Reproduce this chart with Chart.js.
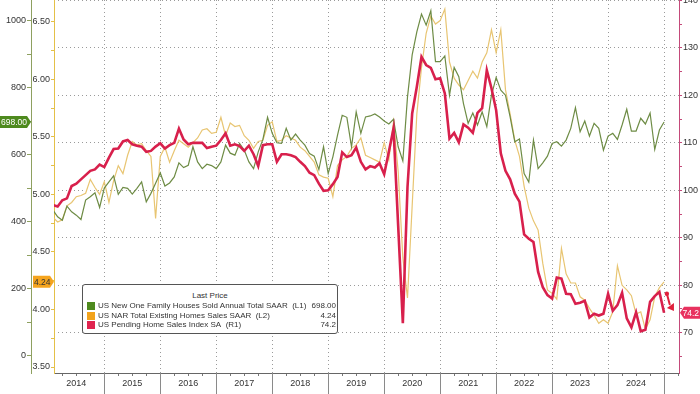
<!DOCTYPE html>
<html>
<head>
<meta charset="utf-8">
<script src="https://cdn.jsdelivr.net/npm/chart.js@4.4.1/dist/chart.umd.min.js"></script>
<style>
  body { margin: 0; background: #fff; }
  #wrap { position: relative; width: 700px; height: 394px; }
  #legend {
    position: absolute; left: 82px; top: 284px; width: 254px; height: 48px;
    border: 1px solid #555; border-radius: 3px; background: #fff;
    font: 8px "Liberation Sans", Arial, sans-serif; color: #333;
  }
  #legend .head { text-align: center; margin-top: 6px; height: 10px; line-height: 10px; }
  #legend .row { position: relative; height: 9.5px; line-height: 9.5px; padding-left: 15px; }
  #legend .sq { position: absolute; left: 4px; top: 1px; width: 8px; height: 8px; }
  #legend .val { position: absolute; right: 1px; top: 0; }
</style>
</head>
<body>
<div id="wrap">
  <canvas id="chart" width="700" height="394"></canvas>
  <div id="legend">
    <div class="head">Last Price</div>
    <div class="row"><span class="sq" style="background:#4e8a1e"></span>US New One Family Houses Sold Annual Total SAAR&nbsp; (L1)<span class="val">698.00</span></div>
    <div class="row"><span class="sq" style="background:#f2a31c"></span>US NAR Total Existing Homes Sales SAAR&nbsp; (L2)<span class="val">4.24</span></div>
    <div class="row"><span class="sq" style="background:#e0244f"></span>US Pending Home Sales Index SA&nbsp; (R1)<span class="val">74.2</span></div>
  </div>
</div>
<script>
// monthly, Jan 2014 .. Dec 2024
const years = ["2014", "2015", "2016", "2017", "2018", "2019", "2020", "2021", "2022", "2023", "2024"];

// US New One Family Houses Sold, SAAR, thousands (L1)
const newHomeSales = [
  435, 415, 405, 447, 430, 420, 407, 465, 475, 487, 443, 501,
  519, 537, 482, 503, 500, 483, 500, 519, 460, 485, 515, 546,
  507, 516, 534, 576, 562, 569, 624, 579, 559, 572, 568, 559,
  579, 629, 605, 599, 634, 614, 579, 559, 609, 646, 712, 664,
  636, 634, 679, 644, 662, 644, 629, 604, 596, 556, 624, 544,
  594, 659, 718, 712, 624, 728, 664, 713, 716, 722, 713, 701,
  692, 706, 624, 582, 773, 898, 967, 1020, 987, 1030, 878, 878,
  895, 778, 861, 833, 753, 694, 725, 689, 728, 684, 778, 831,
  793, 778, 713, 639, 647, 544, 519, 644, 559, 576, 596, 634,
  639, 626, 644, 679, 741, 669, 701, 656, 694, 679, 614, 656,
  664, 646, 689, 736, 671, 671, 709, 692, 725, 616, 674, 698
];

// US NAR Total Existing Home Sales, SAAR, millions (L2)
const existingSales = [
  4.80, 4.76, 4.78, 4.90, 4.93, 4.98, 4.99, 5.01, 5.13, 5.06, 5.00, 5.11,
  4.93, 5.12, 5.25, 5.18, 5.34, 5.46, 5.43, 5.44, 5.38, 5.33, 4.79, 5.33,
  5.41, 5.28, 5.38, 5.47, 5.44, 5.41, 5.45, 5.49, 5.56, 5.57, 5.53, 5.54,
  5.67, 5.51, 5.62, 5.59, 5.60, 5.51, 5.47, 5.40, 5.46, 5.47, 5.60, 5.63,
  5.46, 5.47, 5.51, 5.49, 5.47, 5.41, 5.38, 5.33, 5.28, 5.17, 5.15, 5.14,
  4.98, 5.25, 5.30, 5.33, 5.40, 5.43, 5.49, 5.34, 5.32, 5.30, 5.28, 5.45,
  5.30, 5.63, 5.20, 4.45, 4.10, 4.90, 5.70, 6.10, 6.40, 6.55, 6.48, 6.51,
  6.61, 6.15, 6.01, 5.95, 5.91, 5.99, 6.07, 6.01, 6.15, 6.23, 6.43, 6.23,
  6.43, 5.91, 5.70, 5.47, 5.33, 5.07, 4.88, 4.77, 4.69, 4.40, 4.17, 4.14,
  4.09, 4.53, 4.31, 4.23, 4.23, 4.11, 4.08, 4.01, 3.95, 3.88, 3.91, 3.88,
  3.98, 4.38, 4.21, 4.17, 4.12, 3.96, 3.98, 3.83, 3.91, 4.11, 4.19, 4.24
];

// US Pending Home Sales Index, SA (R1)
const pendingIndex = [
  96.9, 96.6, 97.9, 98.3, 100.9, 101.4, 102.3, 103.2, 104.1, 104.4, 105.4, 104.9,
  106.9, 108.7, 108.8, 110.3, 110.6, 109.7, 109.4, 109.2, 108.1, 108.3, 109.2, 109.9,
  108.8, 109.5, 110.0, 113.0, 110.7, 109.7, 110.0, 110.0, 110.0, 108.9, 109.2, 109.4,
  110.6, 112.0, 109.4, 109.7, 109.3, 108.3, 109.4, 107.6, 105.1, 109.5, 109.7, 109.7,
  106.0, 107.6, 107.6, 107.4, 107.0, 106.0, 105.1, 103.7, 103.2, 101.4, 99.9, 100.0,
  101.3, 102.8, 108.0, 107.0, 107.4, 109.0, 106.0, 104.4, 105.1, 104.8, 105.7, 103.4,
  108.1, 113.0, 92.5, 72.0, 100.7, 116.2, 121.8, 128.1, 126.4, 125.8, 123.4, 123.6,
  120.4, 110.9, 112.1, 110.1, 113.9, 113.2, 112.1, 116.3, 117.3, 125.3, 121.5, 116.9,
  107.8, 104.1, 102.3, 99.3, 97.6, 90.7, 89.8, 89.1, 82.8, 79.6, 77.9, 77.2,
  81.6, 81.4, 78.2, 78.1, 76.1, 76.3, 76.7, 73.2, 74.0, 73.6, 74.0, 78.2,
  74.6, 75.8, 78.4, 73.0, 71.1, 74.3, 70.3, 70.6, 76.5, 77.7, 78.6, 74.2
];

const lastNew = "698.00", lastExisting = "4.24", lastPending = "74.2";

const GREEN = "#6e8c45", YELLOW = "#e8c572", RED = "#d8204c";
const AX_L1 = "#8ea060", AX_L2 = "#e4c048", AX_R1 = "#c44a7a";
const GRID = "#9a9a9a";

// each point sits at the end of its month (x = months since Jan 2014)
function toPoints(arr) {
  return arr.map((v, i) => ({ x: i + 1, y: v }));
}

Chart.defaults.font.family = '"Liberation Sans", Arial, sans-serif';
Chart.defaults.font.size = 9;
Chart.defaults.color = "#333";

function noPad(s) {
  s.paddingTop = 0; s.paddingBottom = 0; s.paddingLeft = 0; s.paddingRight = 0;
}

// ---------- EXTRA DRAWING ----------
function drawTag(ctx, x, y, w, h, tipX, fill, color, text, align) {
  ctx.save();
  ctx.fillStyle = fill;
  ctx.beginPath();
  if (tipX > x + w) {
    ctx.moveTo(x, y - h / 2);
    ctx.lineTo(x + w, y - h / 2);
    ctx.lineTo(tipX, y);
    ctx.lineTo(x + w, y + h / 2);
    ctx.lineTo(x, y + h / 2);
  } else {
    ctx.moveTo(tipX, y);
    ctx.lineTo(x, y - h / 2);
    ctx.lineTo(x + w, y - h / 2);
    ctx.lineTo(x + w, y + h / 2);
    ctx.lineTo(x, y + h / 2);
  }
  ctx.closePath();
  ctx.fill();
  ctx.fillStyle = color;
  ctx.font = '8.5px "Liberation Sans", Arial, sans-serif';
  ctx.textBaseline = "middle";
  ctx.textAlign = align;
  ctx.fillText(text, align === "left" ? x + 1 : x + w - 1, y + 0.5);
  ctx.restore();
}

const extras = {
  id: "extras",
  afterDraw(chart) {
    const ctx = chart.ctx;
    const xs = chart.scales.x, l1 = chart.scales.yL1, l2 = chart.scales.yL2, r1 = chart.scales.yR1;

    // year separators under the axis
    ctx.save();
    ctx.strokeStyle = "#8a8a8a";
    ctx.lineWidth = 1;
    for (let m = 12; m <= 132; m += 12) {
      const px = Math.round(xs.getPixelForValue(m)) + 0.5;
      ctx.beginPath();
      ctx.moveTo(px, xs.top);
      ctx.lineTo(px, chart.height);
      ctx.stroke();
    }
    ctx.restore();

    // last value tags
    drawTag(ctx, 0, l1.getPixelForValue(698), 27, 12, 31, "#4e8a1e", "#fff", lastNew, "left");
    drawTag(ctx, 33, l2.getPixelForValue(4.24), 17, 12, 54, "#f5a41e", "#333", lastExisting, "left");
    drawTag(ctx, 684, r1.getPixelForValue(74.2), 16, 12, 680, "#e8325f", "#fff", lastPending, "right");

    // little red arrow after the last point
    const ax = xs.getPixelForValue(132.6), ay = r1.getPixelForValue(78.2);
    const bx = xs.getPixelForValue(133.2), by = r1.getPixelForValue(76.0);
    const tx = xs.getPixelForValue(133.9), ty = r1.getPixelForValue(74.8);
    ctx.save();
    ctx.fillStyle = "#e0203c";
    ctx.strokeStyle = "#e0203c";
    ctx.lineWidth = 2;
    ctx.lineCap = "round";
    ctx.beginPath();
    ctx.arc(ax, ay, 2.2, 0, Math.PI * 2);
    ctx.fill();
    ctx.beginPath();
    ctx.moveTo(ax, ay);
    ctx.lineTo(bx, by);
    ctx.stroke();
    ctx.beginPath();
    ctx.moveTo(tx + 1, ty + 1);
    ctx.lineTo(tx - 6, ty - 2);
    ctx.lineTo(tx + 1, ty - 7);
    ctx.closePath();
    ctx.fill();
    ctx.restore();
  }
};

// ---------- CHART ----------
new Chart(document.getElementById("chart").getContext("2d"), {
  type: "line",
  data: {
    datasets: [
      {
        label: "US Pending Home Sales Index SA (R1)",
        data: toPoints(pendingIndex),
        yAxisID: "yR1",
        borderColor: RED,
        borderWidth: 2.6,
        order: 0
      },
      {
        label: "US New One Family Houses Sold Annual Total SAAR (L1)",
        data: toPoints(newHomeSales),
        yAxisID: "yL1",
        borderColor: GREEN,
        borderWidth: 1.2,
        order: 1
      },
      {
        label: "US NAR Total Existing Homes Sales SAAR (L2)",
        data: toPoints(existingSales),
        yAxisID: "yL2",
        borderColor: YELLOW,
        borderWidth: 1.2,
        order: 2
      }
    ]
  },
  options: {
    responsive: false,
    animation: false,
    events: [],
    layout: { padding: 0 },
    elements: { point: { radius: 0 }, line: { tension: 0 } },
    plugins: { legend: { display: false }, tooltip: { enabled: false } },
    scales: {
      x: {
        type: "linear",
        min: 1.22,
        max: 135.2,
        afterFit: s => { s.height = 21; },
        afterUpdate: noPad,
        ticks: {
          stepSize: 3,
          autoSkip: false,
          maxRotation: 0,
          includeBounds: false,
          padding: 2,
          color: "#333",
          callback: v => {
            const m = Math.round(v);
            return m % 12 === 6 ? years[(m - 6) / 12] : "";
          }
        },
        grid: {
          color: c => (c.tick && Math.round(c.tick.value) % 12 === 0 ? GRID : "rgba(0,0,0,0)"),
          tickColor: "#777",
          tickLength: 3
        },
        border: { color: "#666", dash: [1, 3] }
      },
      yL2: {
        position: "left",
        weight: 0,
        min: 3.448,
        max: 6.689,
        afterFit: s => { s.width = 23; noPad(s); },
        ticks: {
          stepSize: 0.25,
          includeBounds: false,
          padding: 1,
          callback: v => (Math.abs(v * 2 - Math.round(v * 2)) < 1e-6 ? v.toFixed(2) : "")
        },
        grid: { drawOnChartArea: false, tickColor: AX_L2, tickLength: 3 },
        border: { color: AX_L2 }
      },
      yL1: {
        position: "left",
        weight: 1,
        min: -51,
        max: 1062,
        afterFit: s => { s.width = 31; noPad(s); },
        ticks: {
          stepSize: 100,
          includeBounds: false,
          padding: 1,
          callback: v => (Math.round(v) % 200 === 0 ? String(Math.round(v)) : "")
        },
        grid: { drawOnChartArea: false, tickColor: AX_L1, tickLength: 4 },
        border: { color: AX_L1 }
      },
      yR1: {
        position: "right",
        min: 61.5,
        max: 140.1,
        afterFit: s => { s.width = 21; noPad(s); },
        ticks: {
          stepSize: 5,
          includeBounds: false,
          padding: 1,
          callback: v => (Math.round(v) % 10 === 0 ? String(Math.round(v)) : "")
        },
        grid: {
          color: c => (c.tick && Math.round(c.tick.value) % 10 === 0 ? GRID : "rgba(0,0,0,0)"),
          tickColor: AX_R1,
          tickLength: 3
        },
        border: { color: AX_R1, dash: [1, 3] }
      }
    }
  },
  plugins: [extras]
});
</script>
</body>
</html>
